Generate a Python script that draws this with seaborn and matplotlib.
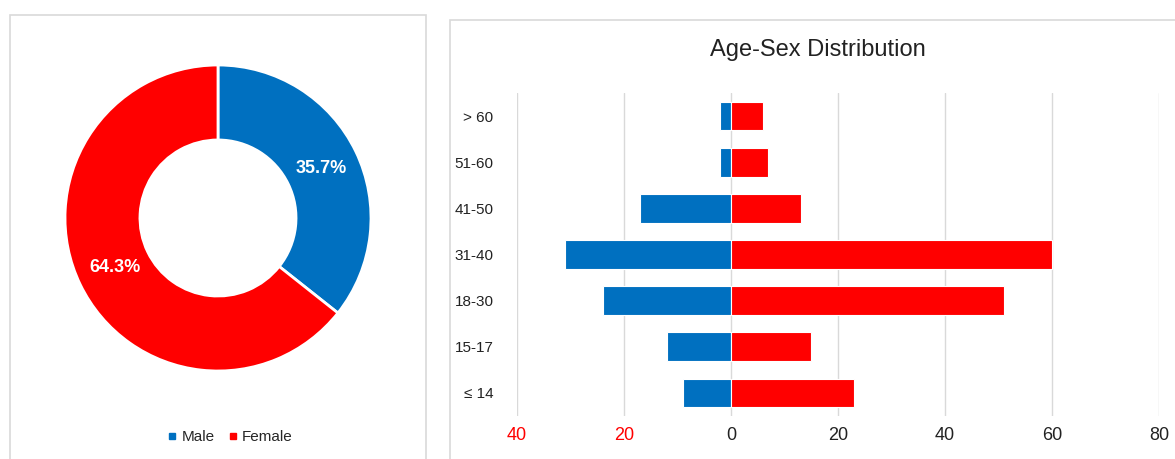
import pandas as pd
import matplotlib
matplotlib.use('Agg')
import matplotlib.pyplot as plt
import seaborn as sns
from matplotlib.patches import Rectangle
from matplotlib.lines import Line2D

# data
age_groups = ['> 60', '51-60', '41-50', '31-40', '18-30', '15-17', '≤ 14']
male_counts = [2, 2, 17, 31, 24, 12, 9]
female_counts = [6, 7, 13, 60, 51, 15, 23]
sex_labels = ['Male', 'Female']
x_ticks = [-40, -20, 0, 20, 40, 60, 80]

BLUE = '#0070c0'
RED = '#ff0000'
BORDER = '#d9d9d9'

sns.set_style('white')
plt.rcParams['font.family'] = ['Liberation Sans Narrow', 'Liberation Sans', 'DejaVu Sans']

fig = plt.figure(figsize=(11.75, 4.59), dpi=100)
W, H = 1175, 459


def px_box(x0, y0, x1, y1):
    # pixel box (top-left origin) -> figure fraction rect
    return [x0 / W, 1 - y1 / H, (x1 - x0) / W, (y1 - y0) / H]


# panel borders
for x0, y0, x1, y1 in [(10, 15, 426, 470), (450, 20, 1190, 470)]:
    l, b, w, h = px_box(x0, y0, x1, y1)
    fig.patches.append(Rectangle((l, b), w, h, transform=fig.transFigure,
                                 fill=False, edgecolor=BORDER, linewidth=1.2))

# donut
totals = [sum(male_counts), sum(female_counts)]
ax_pie = fig.add_axes(px_box(65, 65, 371, 371))
wedges, _, autotexts = ax_pie.pie(
    totals, colors=[BLUE, RED], startangle=90, counterclock=False,
    autopct='%1.1f%%', pctdistance=0.75, radius=1,
    wedgeprops=dict(width=0.49, edgecolor='white', linewidth=2))
for t in autotexts:
    t.set_color('white')
    t.set_fontweight('bold')
    t.set_fontsize(13)
ax_pie.set_xlim(-1, 1)
ax_pie.set_ylim(-1, 1)
ax_pie.set_aspect('equal')
ax_pie.axis('off')

handles = [Line2D([], [], marker='s', linestyle='', markersize=5, color=c) for c in [BLUE, RED]]
fig.legend(handles, sex_labels, loc='center', bbox_to_anchor=(228 / W, 1 - 437 / H),
           ncol=2, frameon=False, fontsize=11, handletextpad=0.0, columnspacing=0.6,
           handlelength=1.2)

# age-sex pyramid
df = pd.DataFrame({
    'age': age_groups * 2,
    'count': [-v for v in male_counts] + female_counts,
    'sex': ['Male'] * len(age_groups) + ['Female'] * len(age_groups),
})
ax = fig.add_axes(px_box(517, 93, 1159, 416))
sns.barplot(data=df, y='age', x='count', hue='sex', order=age_groups,
            palette={'Male': BLUE, 'Female': RED}, dodge=False, width=0.62,
            saturation=1, edgecolor='white', linewidth=0.8, legend=False, ax=ax)
ax.set_xlim(-40, 80)
ax.set_xticks(x_ticks)
ax.set_xticklabels([str(abs(v)) for v in x_ticks], fontsize=13)
for lbl, v in zip(ax.get_xticklabels(), x_ticks):
    lbl.set_color(RED if v < 0 else '#222222')
ax.tick_params(axis='y', labelsize=11, labelcolor='#222222', pad=17, length=0)
ax.tick_params(axis='x', length=0, pad=8)
ax.xaxis.grid(True, color='#d9d9d9', linewidth=1)
ax.set_axisbelow(True)
ax.set_xlabel('')
ax.set_ylabel('')
for s in ax.spines.values():
    s.set_visible(False)

fig.text(818 / W, 1 - 50 / H, 'Age-Sex Distribution', ha='center', va='center',
         fontsize=17, color='#222222')

fig.savefig('out.png', dpi=100)
